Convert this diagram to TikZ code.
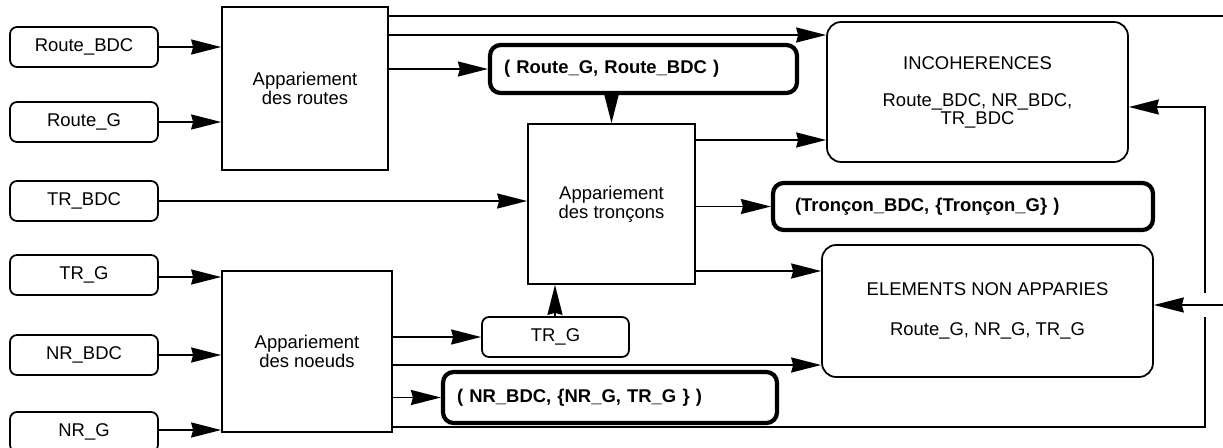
\documentclass[tikz,border=0pt]{standalone}
\usepackage{fontspec}
\setmainfont{Liberation Sans}
\usetikzlibrary{arrows.meta}

\begin{document}
\begin{tikzpicture}[
    x=0.02cm, y=-0.02cm,
    font=\fontsize{10.5}{11}\selectfont,
    boxIn/.style={
        rectangle,
        rounded corners=4pt,
        minimum width=2.96cm,
        minimum height=0.8cm,
        draw,
        line width=1pt
    },
    boxProc/.style={
        rectangle,
        draw,
        line width=1pt,
        align=center
    },
    boxRes/.style={
        rectangle,
        rounded corners=6pt,
        draw,
        line width=2.4pt,
        inner xsep=0.28cm,
        font=\fontsize{10.5}{11}\selectfont\bfseries,
        align=left
    },
    boxOut/.style={
        rectangle,
        rounded corners=8pt,
        draw,
        line width=1pt,
        align=center
    },
    flow/.style={
        -{Stealth[length=0.6cm, width=0.3cm, inset=0.04cm]},
        line width=1.1pt
    }
]
\useasboundingbox (0,0) rectangle (1223,447);

% Inputs
\node[boxIn] (rbdc)  at (84,47)  {Route\_BDC\hspace{0.3cm}};
\node[boxIn] (rg)    at (84,122) {Route\_G\hspace{0.2cm}};
\node[boxIn] (trbdc) at (84,201) {TR\_BDC\hspace{0.4cm}};
\node[boxIn] (trg)   at (84,275) {TR\_G\hspace{0.5cm}};
\node[boxIn] (nrbdc) at (84,355) {NR\_BDC\hspace{0.5cm}};
\node[boxIn] (nrg)   at (84,432) {NR\_G\hspace{0.3cm}};

% Matching steps
\node[boxProc, minimum width=3.32cm, minimum height=3.26cm] (routes) at (305,88.5) {Appariement\\des routes};
\node[boxProc, minimum width=3.34cm, minimum height=3.2cm] (troncons) at (611.5,204) {Appariement\\des tronçons};
\node[boxProc, minimum width=3.4cm, minimum height=3.22cm] (noeuds) at (307,351.5) {Appariement\\des noeuds};

% Results
\node[boxRes, minimum height=0.96cm, text width=5.58cm] (rgrbdc) at (643.5,69) {( Route\_G, Route\_BDC )};
\node[boxRes, minimum height=0.94cm, inner xsep=0.44cm, text width=6.72cm] (tronres) at (963,206.5) {(Tronçon\_BDC, \{Tronçon\_G\} )};
\node[boxRes, minimum height=1.02cm, text width=6.12cm] (nrres) at (610,397.5) {( NR\_BDC, \{NR\_G, TR\_G \} )};
\node[boxIn, minimum width=2.94cm] (trgmid) at (555.5,337) {TR\_G\hspace{0.6cm}};

% Outputs
\node[boxOut, minimum width=6.02cm, minimum height=2.8cm, font=\fontsize{10.5}{10.2}\selectfont] (incoh) at (977.5,92)
    {INCOHERENCES\\[11pt]Route\_BDC, NR\_BDC,\\TR\_BDC};
\node[boxOut, minimum width=6.62cm, minimum height=2.64cm] (elem) at (987.5,311)
    {ELEMENTS NON APPARIES\\[12pt]Route\_G, NR\_G, TR\_G};

\coordinate (offR) at (1240,0);
\coordinate (loopX) at (1205,0);

% Connectors
\draw[flow] (rbdc.east) -- (rbdc.east -| routes.west);
\draw[flow] (rg.east) -- (rg.east -| routes.west);
\draw[flow] (routes.east |- 0,16) -- (offR |- 0,16) -- (offR |- 0,305) -- (elem.east |- 0,305);
\draw[flow] (routes.east |- 0,35) -- (incoh.west |- 0,35);
\draw[flow] (routes.east |- rgrbdc.west) -- (rgrbdc.west);
\draw[flow] (rgrbdc.south -| troncons.north) -- (troncons.north);
\draw[flow] (trbdc.east) -- (trbdc.east -| troncons.west);
\draw[flow] (troncons.east |- 0,140) -- (incoh.west |- 0,140);
\draw[flow] (troncons.east |- tronres.west) -- (tronres.west);
\draw[flow] (troncons.east |- 0,271) -- (elem.west |- 0,271);
\draw[flow] (trgmid.north -| 555,0) -- (troncons.south -| 555,0);
\draw[flow] (trg.east |- 0,277) -- (noeuds.west |- 0,277);
\draw[flow] (nrbdc.east) -- (nrbdc.east -| noeuds.west);
\draw[flow] (nrg.east |- 0,430) -- (noeuds.west |- 0,430);
\draw[flow] (noeuds.east |- trgmid.west) -- (trgmid.west);
\draw[flow] (noeuds.east |- 0,365) -- (elem.west |- 0,365);
\draw[flow] (noeuds.east |- nrres.west) -- (nrres.west);
\draw[flow] (noeuds.east |- 0,427) -- (loopX |- 0,427) -- (loopX |- 0,317)
    (loopX |- 0,293) -- (loopX |- 0,107) -- (incoh.east |- 0,107);

\end{tikzpicture}
\end{document}
